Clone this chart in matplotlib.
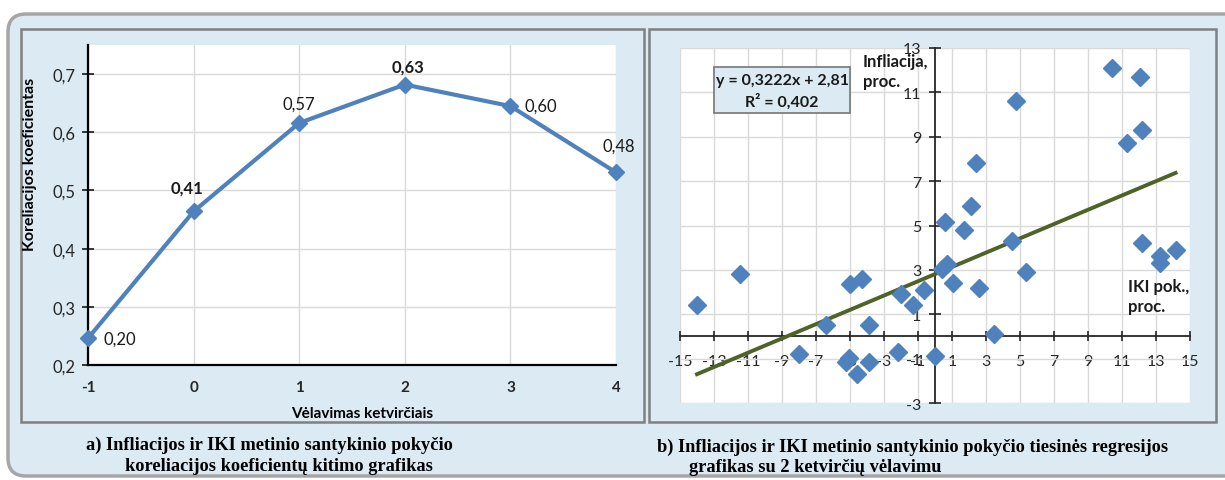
import matplotlib
matplotlib.use('Agg')
import matplotlib.pyplot as plt
from matplotlib.patches import FancyBboxPatch, Rectangle

# panel a: correlation coefficient vs lag (points as drawn, labels as printed)
lag_quarters = [-1, 0, 1, 2, 3, 4]
corr_plotted = [0.246, 0.464, 0.616, 0.682, 0.645, 0.531]
corr_labels = ['0,20', '0,41', '0,57', '0,63', '0,60', '0,48']
corr_label_bold = [False, True, False, True, False, False]
a_yticks = [0.2, 0.3, 0.4, 0.5, 0.6, 0.7]
a_yticklabels = ['0,2', '0,3', '0,4', '0,5', '0,6', '0,7']

# panel b: inflation vs GDP change, 2 quarter lag
iki_change = [-14.0, -11.5, -8.0, -6.4, -5.0, -4.3, -3.9, -5.25, -5.05, -4.6,
              -3.9, -2.15, -2.0, -1.3, -0.63, 0.0, 0.6, 0.4, 0.72, 1.05,
              1.7, 2.1, 2.4, 2.6, 3.45, 4.5, 4.75, 5.35, 10.42, 12.05,
              11.3, 12.15, 12.15, 13.25, 13.25, 14.15]
inflation = [1.4, 2.8, -0.8, 0.5, 2.38, 2.6, 0.5, -1.17, -0.96, -1.7,
             -1.17, -0.7, 1.9, 1.42, 2.1, -0.88, 5.18, 3.02, 3.26, 2.4,
             4.8, 5.9, 7.8, 2.2, 0.1, 4.3, 10.6, 2.9, 12.1, 11.7,
             8.7, 9.32, 4.22, 3.64, 3.29, 3.9]
slope, intercept = 0.3222, 2.81
b_xticks = list(range(-15, 16, 2))
b_yticks = list(range(-3, 14, 2))

W, H = 1225, 481
BG = '#dbeaf3'
BLUE = '#4f81bd'
GRID = '#d9d9d9'
SANS = ['Lato', 'DejaVu Sans']
SERIF = ['Liberation Serif', 'DejaVu Serif']
plt.rcParams['font.family'] = SANS
plt.rcParams['axes.unicode_minus'] = False


def rect(l, t, r, b):
    return [l / W, 1 - b / H, (r - l) / W, (b - t) / H]


fig = plt.figure(figsize=(W / 100, H / 100), dpi=100, facecolor='white')

# background canvas in pixel coordinates
bg = fig.add_axes([0, 0, 1, 1], zorder=0)
bg.set_xlim(0, W)
bg.set_ylim(H, 0)
bg.axis('off')
bg.add_patch(FancyBboxPatch((8, 15), 1240, 462, boxstyle='round,pad=0,rounding_size=18',
                            facecolor=BG, edgecolor='#a6a6a6', lw=2.5))
bg.add_patch(Rectangle((21, 30), 623, 393, facecolor=BG, edgecolor='#808080', lw=1.8))
bg.add_patch(Rectangle((649, 30), 567, 393, facecolor=BG, edgecolor='#808080', lw=1.8))

cap = dict(family=SERIF, weight='bold', fontsize=13.2, ha='left', va='center')
bg.text(86, 445, 'a) Infliacijos ir IKI metinio santykinio pokyčio', **cap)
bg.text(125, 467, 'koreliacijos koeficientų kitimo grafikas', **cap)
bg.text(657, 447, 'b) Infliacijos ir IKI metinio santykinio pokyčio tiesinės regresijos', **cap)
bg.text(689, 468, 'grafikas su 2 ketvirčių vėlavimu', **cap)

# ---------------- panel a
axa = fig.add_axes(rect(88, 46, 616, 366), zorder=2)
axa.set_facecolor('white')
axa.plot(lag_quarters, corr_plotted, color=BLUE, lw=3, marker='D', ms=8,
         clip_on=False, zorder=3)
axa.set_xlim(-1, 4)
axa.set_ylim(0.2, 0.75)
axa.set_xticks(lag_quarters)
axa.set_xticklabels([str(v) for v in lag_quarters], fontweight='bold')
axa.set_yticks(a_yticks)
axa.set_yticklabels(a_yticklabels)
axa.grid(True, color=GRID, lw=1)
axa.set_axisbelow(True)
for s in ['top', 'right']:
    axa.spines[s].set_visible(False)
for s in ['left', 'bottom']:
    axa.spines[s].set_linewidth(1.6)
axa.tick_params(axis='y', direction='inout', length=8, width=1.3, pad=5,
                labelsize=12, colors='#262626')
axa.tick_params(axis='x', length=0, pad=11, labelsize=11, colors='#262626')
axa.set_ylabel('Koreliacijos koeficientas', fontsize=11.5, fontweight='bold')
axa.yaxis.set_label_coords(-0.097, 0.63)
axa.set_xlabel('Vėlavimas ketvirčiais', fontsize=11, fontweight='bold')
axa.xaxis.set_label_coords(0.519, -0.127)

label_offsets = [(11, 0, 'left'), (-5, 17, 'center'), (0, 14, 'center'),
                 (2, 13, 'center'), (10, 0, 'left'), (2, 19, 'center')]
for xv, yv, txt, bold, (dx, dy, ha) in zip(lag_quarters, corr_plotted, corr_labels,
                                           corr_label_bold, label_offsets):
    axa.annotate(txt, (xv, yv), xytext=(dx, dy), textcoords='offset points',
                 ha=ha, va='center', fontsize=12,
                 fontweight='bold' if bold else 'normal', color='#1a1a1a')

# ---------------- panel b
axb = fig.add_axes(rect(680, 49, 1190, 404), zorder=2)
axb.set_facecolor('white')
axb.set_xlim(-15, 15)
axb.set_ylim(-3, 13)
axb.set_xticks(b_xticks)
axb.set_yticks(b_yticks)
axb.grid(True, color=GRID, lw=1)
axb.set_axisbelow(True)
axb.spines['left'].set_position(('data', 0))
axb.spines['bottom'].set_position(('data', 0))
for s in ['top', 'right']:
    axb.spines[s].set_visible(False)
for s in ['left', 'bottom']:
    axb.spines[s].set_linewidth(1.3)
    axb.spines[s].set_color('#262626')
axb.tick_params(axis='x', direction='inout', length=7, width=1.2, pad=9,
                labelsize=11.5, colors='#262626')
axb.tick_params(axis='y', direction='inout', length=8, width=1.2, pad=6,
                labelsize=11.5, colors='#262626')

xs = [min(iki_change), max(iki_change)]
axb.plot(xs, [slope * v + intercept for v in xs], color='#4f6228', lw=2.8, zorder=3)
axb.plot(iki_change, inflation, linestyle='none', marker='D', ms=9.5, color=BLUE,
         clip_on=False, zorder=4)

axb.add_patch(Rectangle((714, 68), 136, 46, transform=bg.transData,
                        facecolor=BG, edgecolor='#7f7f7f', lw=1.3, zorder=5))
txt = dict(transform=bg.transData, fontsize=11.5, fontweight='bold',
           color='#1a1a1a', zorder=6)
axb.text(782, 81, 'y = 0,3222x + 2,81', ha='center', va='center', **txt)
axb.text(782, 102, 'R² = 0,402', ha='center', va='center', **txt)
axb.text(863, 72, 'Infliacija,\nproc.', ha='left', va='center',
         linespacing=1.25, **dict(txt, fontsize=12))
axb.text(1128, 297, 'IKI pok.,\nproc.', ha='left', va='center',
         linespacing=1.25, **dict(txt, fontsize=12))

fig.savefig('out.png', dpi=100)
plt.close(fig)
